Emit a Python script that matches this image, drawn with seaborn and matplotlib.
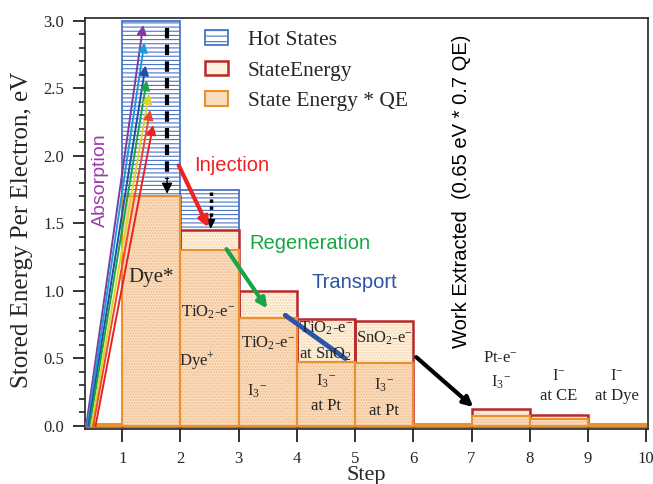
import numpy as np
import pandas as pd
import matplotlib
matplotlib.use('Agg')
import matplotlib.pyplot as plt
from matplotlib.patches import Patch
import seaborn as sns

# step edges (each state occupies [left, left + 1])
step_left = [0, 1, 2, 3, 4, 5, 6, 7, 8, 9]
state_energy = [0.015, 1.70, 1.45, 1.00, 0.79, 0.78, 0.015, 0.125, 0.08, 0.015]
state_energy_qe = [0.015, 1.70, 1.30, 0.80, 0.475, 0.47, 0.015, 0.075, 0.05, 0.015]

hot_left = [1, 2]
hot_states = [3.0, 1.75]

# absorption arrows: start x at y=0, tip (x, y)
abs_start = [0.38, 0.40, 0.42, 0.44, 0.47, 0.50, 0.54]
abs_tip_x = [1.36, 1.38, 1.40, 1.42, 1.46, 1.48, 1.53]
abs_tip_y = [2.97, 2.84, 2.67, 2.56, 2.46, 2.34, 2.23]
abs_colors = ['#7d3c9e', '#1f9ad8', '#1f4ea6', '#1ba349', '#d9d62a', '#f0452a', '#e8221e']

state_labels = [
    (1.5, 1.10, 'Dye*', 15),
    (2.47, 0.84, r'TiO$_{\mathrm{2}}$-e$^{\mathrm{-}}$', 12),
    (2.28, 0.48, r'Dye$^{\mathrm{+}}$', 12),
    (3.5, 0.61, r'TiO$_{\mathrm{2}}$-e$^{\mathrm{-}}$', 12),
    (3.32, 0.26, r'I$_{\mathrm{3}}$$^{-}$', 12),
    (4.5, 0.72, r'TiO$_{\mathrm{2}}$-e$^{\mathrm{-}}$', 12),
    (4.5, 0.53, r'at SnO$_{\mathrm{2}}$', 12),
    (4.5, 0.33, r'I$_{\mathrm{3}}$$^{-}$', 12),
    (4.5, 0.15, 'at Pt', 12),
    (5.5, 0.65, r'SnO$_{\mathrm{2}}$-e$^{\mathrm{-}}$', 12),
    (5.5, 0.30, r'I$_{\mathrm{3}}$$^{-}$', 12),
    (5.5, 0.11, 'at Pt', 12),
    (7.5, 0.50, r'Pt-e$^{\mathrm{-}}$', 12),
    (7.5, 0.32, r'I$_{\mathrm{3}}$$^{-}$', 12),
    (8.5, 0.37, r'I$^{-}$', 12),
    (8.5, 0.22, 'at CE', 12),
    (9.5, 0.37, r'I$^{-}$', 12),
    (9.5, 0.22, 'at Dye', 12),
]

sns.set_theme(style='ticks')
plt.rcParams['font.family'] = ['Liberation Serif', 'DejaVu Serif']
plt.rcParams['mathtext.fontset'] = 'custom'
plt.rcParams['mathtext.rm'] = 'Liberation Serif'
plt.rcParams['mathtext.it'] = 'Liberation Serif:italic'
plt.rcParams['hatch.linewidth'] = 0.8

BLUE = '#4a74c9'
RED = '#b8272a'
ORANGE = '#e8912e'

fig = plt.figure(figsize=(6.53, 4.84), dpi=100)
ax = fig.add_axes([0.1302, 0.1143, 0.862, 0.8486])

# hot states: horizontal blue hatch
ax.bar(hot_left, hot_states, width=1, align='edge', color='white',
       edgecolor=BLUE, hatch='----', linewidth=1.3, zorder=1)

# state energy: light fill with faint dots
ax.bar(step_left, state_energy, width=1, align='edge', color='#fff1dc',
       edgecolor='#f3d2ad', hatch='......', linewidth=0, zorder=2)
ax.bar(step_left, state_energy, width=1, align='edge', fill=False,
       edgecolor=RED, linewidth=1.8, zorder=3)

# state energy * QE
ax.bar(step_left, state_energy_qe, width=1, align='edge', color='#fbdcbc',
       edgecolor='#eebc8e', hatch='......', linewidth=0, zorder=4)
ax.bar(step_left, state_energy_qe, width=1, align='edge', fill=False,
       edgecolor=ORANGE, linewidth=1.5, zorder=5)

# absorption arrows
for x0, xt, yt, c in zip(abs_start, abs_tip_x, abs_tip_y, abs_colors):
    ax.annotate('', xy=(xt, yt), xytext=(x0, 0.0),
                arrowprops=dict(arrowstyle='-|>', color=c, lw=1.4,
                                mutation_scale=14, shrinkA=0, shrinkB=0),
                zorder=6)

# relaxation in Dye* (dashed) and in TiO2 (dotted)
ax.plot([1.77, 1.77], [2.95, 1.83], color='black', ls=(0, (2.5, 1.5)), lw=3, zorder=7)
ax.annotate('', xy=(1.77, 1.72), xytext=(1.77, 1.84),
            arrowprops=dict(arrowstyle='-|>', color='black', lw=1, mutation_scale=16,
                            shrinkA=0, shrinkB=0), zorder=7)
ax.plot([2.52, 2.52], [1.73, 1.55], color='black', ls=(0, (1, 1)), lw=2.5, zorder=7)
ax.annotate('', xy=(2.52, 1.46), xytext=(2.52, 1.56),
            arrowprops=dict(arrowstyle='-|>', color='black', lw=1, mutation_scale=14,
                            shrinkA=0, shrinkB=0), zorder=7)

# process arrows
ax.annotate('', xy=(2.48, 1.47), xytext=(1.97, 1.93),
            arrowprops=dict(arrowstyle='-|>', color='#ee2222', lw=3, mutation_scale=14,
                            shrinkA=0, shrinkB=0), zorder=7)
ax.annotate('', xy=(3.49, 0.87), xytext=(2.79, 1.31),
            arrowprops=dict(arrowstyle='-|>', color='#17a548', lw=3, mutation_scale=14,
                            shrinkA=0, shrinkB=0), zorder=7)
ax.plot([3.80, 4.83], [0.82, 0.50], color='#2a55a8', lw=3.5, solid_capstyle='round', zorder=7)
ax.annotate('', xy=(7.03, 0.14), xytext=(6.05, 0.51),
            arrowprops=dict(arrowstyle='-|>', color='black', lw=3, mutation_scale=14,
                            shrinkA=0, shrinkB=0), zorder=7)

sans = ['Liberation Sans', 'DejaVu Sans']
ax.text(2.88, 1.93, 'Injection', color='#ee2222', fontsize=14.5, family=sans,
        ha='center', va='center', zorder=8)
ax.text(4.23, 1.355, 'Regeneration', color='#17a548', fontsize=14.5, family=sans,
        ha='center', va='center', zorder=8)
ax.text(4.99, 1.06, 'Transport', color='#2a55a8', fontsize=14.5, family=sans,
        ha='center', va='center', zorder=8)
ax.text(0.63, 1.82, 'Absorption', color='#9b3fa8', fontsize=14, family=sans,
        rotation=90, ha='center', va='center', zorder=8)
ax.text(6.82, 1.74, 'Work Extracted  (0.65 eV * 0.7 QE)', color='black', fontsize=14.5,
        family=sans, rotation=90, ha='center', va='center', zorder=8)

for x, y, s, fs in state_labels:
    ax.text(x, y, s, fontsize=fs, ha='center', va='center', zorder=8)

ax.set_xlim(0.36, 10.03)
ax.set_ylim(-0.02, 3.022)
ax.set_xticks(range(1, 11))
ax.set_yticks(np.arange(0, 3.01, 0.5))
ax.set_yticks(np.arange(0, 3.01, 0.1), minor=True)
ax.set_yticklabels([f'{v:.1f}' for v in np.arange(0, 3.01, 0.5)])
ax.tick_params(axis='both', which='major', labelsize=12, length=9, width=1.3,
               direction='out', color='#222222')
ax.tick_params(axis='y', which='major', pad=6)
ax.tick_params(axis='x', which='major', pad=7)
ax.tick_params(axis='y', which='minor', length=4.5, width=1.2, color='#222222')
for sp in ax.spines.values():
    sp.set_linewidth(1.2)
    sp.set_color('#222222')

ax.set_xlabel('Step', fontsize=16)
ax.set_ylabel('Stored Energy Per Electron, eV', fontsize=18)
ax.xaxis.set_label_coords(0.5, -0.09)
ax.yaxis.set_label_coords(-0.092, 0.484)

handles = [
    Patch(facecolor='white', edgecolor=BLUE, hatch='---', linewidth=1.3),
    Patch(facecolor='#fff1dc', edgecolor=RED, linewidth=1.8),
    Patch(facecolor='#fbdcbc', edgecolor=ORANGE, linewidth=1.5),
]
ax.legend(handles, ['Hot States', 'StateEnergy', 'State Energy * QE'],
          loc='upper left', bbox_to_anchor=(0.213, 0.97), frameon=False,
          fontsize=15.5, handlelength=1.05, handleheight=0.65, handletextpad=0.95,
          labelspacing=0.5, borderpad=0, borderaxespad=0)

fig.savefig('out.png', dpi=100)
